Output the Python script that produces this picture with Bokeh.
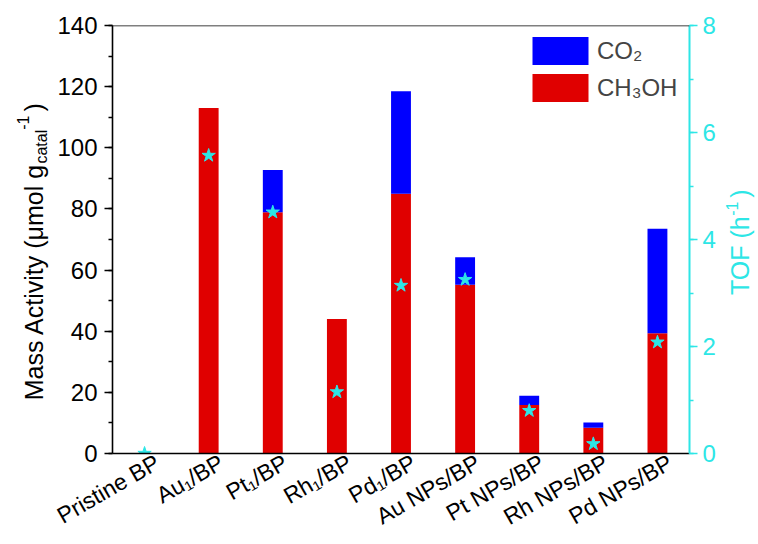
import math
from bokeh.plotting import figure
from bokeh.layouts import row
from bokeh.models import (Range1d, LinearAxis, SingleIntervalTicker, FixedTicker,
                          Label, Legend, LegendItem, Span, ColumnDataSource)
from bokeh.embed import file_html
from bokeh.resources import INLINE

# ---- data -------------------------------------------------------------
catalysts = ["Pristine BP", "Au\u2081/BP", "Pt\u2081/BP", "Rh\u2081/BP", "Pd\u2081/BP",
             "Au NPs/BP", "Pt NPs/BP", "Rh NPs/BP", "Pd NPs/BP"]
ch3oh = [0.0, 113.0, 78.9, 44.0, 85.0, 55.2, 15.9, 8.4, 39.3]   # μmol g⁻¹
co2 = [0.0, 0.0, 13.8, 0.0, 33.5, 9.0, 3.0, 1.7, 34.2]          # μmol g⁻¹ (stacked on top)
tof = [0.0, 5.57, 4.51, 1.15, 3.14, 3.25, 0.80, 0.18, 2.08]     # h⁻¹
mass_range = (0, 140)
tof_range = (0, 8)

# ---- style ------------------------------------------------------------
FONT = "Liberation Sans"
RED = "#e00000"
BLUE = "#0000ff"
CYAN = "#2de6e6"
W, H = 758, 544
FL, FR, FT, FB = 112, 689, 25, 453   # plot frame edges on the page
LEFT_W, RIGHT_W = 52, 38             # strips holding the rotated axis titles

# Arial / Liberation Sans advance widths (per em) for composing rich labels
ADV = {"M": .833, "a": .556, "s": .5, " ": .278, "A": .667, "c": .5, "t": .278,
       "i": .222, "v": .5, "y": .5, "(": .333, ")": .333, "\u03bc": .576, "m": .833,
       "o": .556, "l": .222, "g": .556, "-": .584, "1": .556, "T": .611, "O": .778,
       "F": .611, "h": .556}
MID = 0.35   # distance from baseline to the middle of the text box, in em


def text_width(s, size):
    return sum(ADV.get(ch, .556) for ch in s) * size


def strip(x0, width, yrange):
    """blank figure sharing the plot's vertical frame; x in page pixels"""
    f = figure(width=width, height=H, output_backend="svg", toolbar_location=None,
               x_range=Range1d(x0, x0 + width), y_range=Range1d(*yrange),
               min_border_left=0, min_border_right=0,
               min_border_top=FT, min_border_bottom=H - FB,
               x_axis_location=None, y_axis_location=None)
    f.outline_line_color = None
    f.xgrid.visible = False
    f.ygrid.visible = False
    return f


def rich_vertical(fig, pieces, baseline, center, per_px, color):
    """pieces: (text, size, shift) written upwards about `center`;
    shift>0 lowers the piece (subscript), shift<0 raises it"""
    total = sum(text_width(t, s) for t, s, _ in pieces)
    y = center - total / 2 * per_px
    for txt, size, shift in pieces:
        fig.add_layout(Label(x=baseline + shift - MID * size, y=y, text=txt,
                             angle=math.pi / 2, text_align="left",
                             text_baseline="middle", text_font=FONT,
                             text_font_size=f"{size}px", text_color=color))
        y += text_width(txt, size) * per_px


x = list(range(len(catalysts)))
src = ColumnDataSource(dict(x=x, ch3oh=ch3oh, co2=co2, tof=tof))

MAIN_W = W - LEFT_W - RIGHT_W
p = figure(width=MAIN_W, height=H, output_backend="svg", toolbar_location=None,
           x_range=Range1d(-0.5, len(catalysts) - 0.5),
           y_range=Range1d(*mass_range),
           min_border_left=FL - LEFT_W, min_border_right=W - RIGHT_W - FR,
           min_border_top=FT, min_border_bottom=H - FB,
           y_axis_location=None)
p.outline_line_color = None
p.xgrid.visible = False
p.ygrid.visible = False

# stacked bars
bars = p.vbar_stack(["ch3oh", "co2"], x="x", width=0.31, source=src,
                    color=[RED, BLUE], line_width=0)

# TOF stars on the secondary axis
p.extra_y_ranges = {"tof": Range1d(*tof_range)}
p.scatter("x", "tof", source=src, marker="star", size=14, y_range_name="tof",
          fill_color=CYAN, line_color=CYAN)

# value axes
yl = LinearAxis(ticker=SingleIntervalTicker(interval=20, num_minor_ticks=2))
yr = LinearAxis(y_range_name="tof",
                ticker=SingleIntervalTicker(interval=2, num_minor_ticks=2))
for ax, col, standoff in ((yl, "black", 7), (yr, CYAN, 5)):
    ax.axis_line_color = col
    ax.axis_line_width = 1.6 if col == "black" else 2
    ax.major_tick_line_color = col
    ax.minor_tick_line_color = col
    ax.major_tick_line_width = 1.5
    ax.minor_tick_line_width = 1.5
    ax.major_tick_out = 8
    ax.major_tick_in = 0
    ax.minor_tick_out = 4
    ax.minor_tick_in = 0
    ax.major_label_text_color = col
    ax.major_label_text_font = FONT
    ax.major_label_text_font_size = "24px"
    ax.major_label_standoff = standoff
p.add_layout(yl, "left")
p.add_layout(yr, "right")

# category axis: rotated names (ending just right of each bar), no tick marks
label_pos = [i + 0.2 for i in x]
xa = p.xaxis[0]
xa.ticker = FixedTicker(ticks=label_pos)
xa.major_label_overrides = {t: name for t, name in zip(label_pos, catalysts)}
xa.major_label_orientation = math.pi / 6
xa.major_label_text_font = FONT
xa.major_label_text_font_size = "23px"
xa.major_label_text_color = "black"
xa.major_label_standoff = 1
xa.major_tick_line_color = None
xa.minor_tick_line_color = None
xa.axis_line_color = "black"
xa.axis_line_width = 1.6

# top frame line
p.add_layout(Span(location=mass_range[1], dimension="width",
                  line_color="black", line_width=1.6))

# legend
legend = Legend(items=[LegendItem(label="CO\u2082", renderers=[bars[1]]),
                       LegendItem(label="CH\u2083OH", renderers=[bars[0]])],
                location=(413, 348), glyph_width=70, glyph_height=35,
                label_text_font=FONT, label_text_font_size="24px",
                label_standoff=2, spacing=2, padding=0, margin=0,
                border_line_color=None, background_fill_alpha=0)
p.add_layout(legend)

# axis titles in side strips (vertical units follow each value axis)
frame_h = FB - FT
left = strip(0, LEFT_W, mass_range)
rich_vertical(left, [("Mass Activity (\u03bcmol g", 25, 0), ("catal", 16, 5),
                     ("-1", 16, -14), (")", 25, 0)],
              baseline=42, center=66, per_px=(mass_range[1] - mass_range[0]) / frame_h,
              color="black")
right = strip(W - RIGHT_W, RIGHT_W, tof_range)
rich_vertical(right, [("TOF (h", 25, 0), ("-1", 16, -11), (")", 25, 0)],
              baseline=748, center=3.95, per_px=(tof_range[1] - tof_range[0]) / frame_h,
              color=CYAN)

open("out.html", "w").write(file_html(row(left, p, right), INLINE))
